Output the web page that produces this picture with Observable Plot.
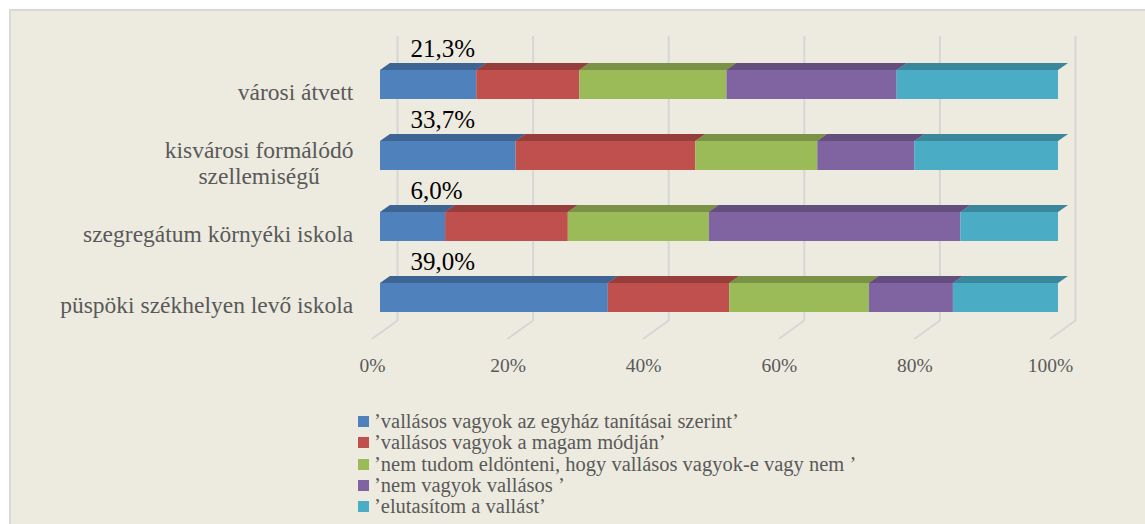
<!DOCTYPE html>
<html>
<head>
<meta charset="utf-8">
<script src="https://cdn.jsdelivr.net/npm/d3@7"></script>
<script src="https://cdn.jsdelivr.net/npm/@observablehq/plot@0.6"></script>
<style>
  html, body { margin: 0; padding: 0; background: #ffffff; }
  #frame { position: absolute; left: 9px; top: 9px; width: 1136px; height: 515px;
           background: #EDEBE0; border-top: 2px solid #D9D9D9; border-left: 2px solid #D9D9D9; box-sizing: border-box; }
  #wrap { position: relative; width: 1145px; }
  #chart svg text { font-family: "Liberation Serif", "Times New Roman", serif; }
  #legend { margin-left: 358px; margin-top: 16px; font-family: "Liberation Serif", serif;
            font-size: 20.5px; line-height: 21.3px; color: #595959; }
  #legend .item { display: flex; align-items: center; white-space: pre; height: 21.3px; }
  #legend .sw { width: 11px; height: 11px; margin-right: 5px; flex: none; }
</style>
</head>
<body>
<div id="frame"></div>
<div id="wrap"><div id="chart"></div><div id="legend"></div></div>
<script>
// ---- data ----
const categories = ["városi átvett", "kisvárosi formálódó\nszellemiségű", "szegregátum környéki iskola", "püspöki székhelyen levő iskola"];
const seriesNames = [
  "’vallásos vagyok az egyház tanításai szerint’",
  "’vallásos vagyok a magam módján’",
  "’nem tudom eldönteni, hogy vallásos vagyok-e vagy nem ’",
  "’nem vagyok vallásos ’",
  "’elutasítom a vallást’"
];
const religiousByChurch = [14.2, 20.0, 9.6, 33.6];
const religiousOwnWay   = [15.2, 26.5, 18.1, 17.9];
const undecided         = [21.7, 18.0, 20.8, 20.6];
const notReligious      = [25.1, 14.3, 37.1, 12.4];
const rejectReligion    = [23.8, 21.2, 14.4, 15.5];
const valueLabels = ["21,3%", "33,7%", "6,0%", "39,0%"];
const tickValues = [0, 20, 40, 60, 80, 100];
const colors = ["#4F81BD", "#C0504D", "#9BBB59", "#8064A2", "#4BACC6"];

// ---- derived tables ----
const seriesValues = [religiousByChurch, religiousOwnWay, undecided, notReligious, rejectReligion];
const rows = categories.flatMap((c, i) => seriesNames.map((s, j) => ({cat: c, series: s, value: seriesValues[j][i]})));
const totals = categories.map((c, i) => d3.sum(seriesValues, v => v[i]));
const labelRows = valueLabels.map((t, i) => ({cat: categories[i], t}));

const DEPTH_X = 10, DEPTH_Y = 7;
const serif = "Liberation Serif";

const chart = Plot.plot({
  width: 1145, height: 395,
  marginLeft: 380, marginRight: 87, marginTop: 28, marginBottom: 41,
  x: {domain: [0, 100], axis: null, label: null},
  y: {domain: categories, axis: null, padding: 0.5915, round: false},
  color: {domain: seriesNames, range: colors},
  style: {background: "transparent", fontSize: "19.5px", color: "#595959", overflow: "visible"},
  marks: [
    Plot.ruleX(tickValues, {x: d => d, dx: 17, insetTop: 8, insetBottom: 34, stroke: "#D6D6D6", strokeWidth: 2}),
    Plot.vector(tickValues, {x: d => d, frameAnchor: "bottom", anchor: "start", dx: 17, dy: -34,
      length: 30.8, rotate: 234.2, shape: "spike", r: 0.01, fill: "none", stroke: "#D6D6D6", strokeWidth: 2}),
    Plot.axisX({ticks: tickValues, tickFormat: d => d + "%", tickSize: 0, tickPadding: 4, dx: -8, label: null,
      fontSize: 19.5, fontFamily: serif, fill: "#595959"}),
    Plot.barX(rows, Plot.stackX({x: "value", y: "cat", fill: "series"})),
    Plot.barX(rows, Plot.stackX({x: "value", y: "cat", fill: "series", insetBottom: 22, dy: -DEPTH_Y, ariaDescription: "top-face"})),
    Plot.barX(rows, Plot.stackX({x: "value", y: "cat", fill: "black", fillOpacity: 0.22, insetBottom: 22, dy: -DEPTH_Y, ariaDescription: "top-face"})),
    Plot.ruleX(categories, {x: (c, i) => totals[i], y: d => d, stroke: "#2F7182", strokeWidth: DEPTH_X, dx: DEPTH_X / 2, ariaDescription: "side-face"}),
    Plot.text(categories, {y: d => d, frameAnchor: "left", textAnchor: "end", dx: -27, dy: 6.5,
      fontSize: 23.5, fontFamily: serif, lineHeight: 1.12, fill: "#595959", ariaDescription: "cat-labels"}),
    Plot.text(labelRows, {x: () => 0, y: "cat", text: "t", textAnchor: "start", dx: 30, dy: -36,
      fontSize: 25, fontFamily: serif, fill: "#000000"})
  ]
});
document.getElementById("chart").append(chart);

// 3D faces: skew the top faces and side faces drawn by Plot
const k = -DEPTH_X / DEPTH_Y;
chart.querySelectorAll('g[aria-description="top-face"] rect').forEach(r => {
  const yb = +r.getAttribute("y") + +r.getAttribute("height");
  const prev = r.getAttribute("transform") || "";
  r.setAttribute("transform", `${prev} matrix(1,0,${k},1,${-k * yb},0)`);
});
const m = -DEPTH_Y / DEPTH_X;
chart.querySelectorAll('g[aria-description="side-face"] line').forEach(l => {
  const xl = +l.getAttribute("x1") - DEPTH_X / 2;
  const prev = l.getAttribute("transform") || "";
  l.setAttribute("transform", `${prev} matrix(1,${m},0,1,0,${-m * xl})`);
});
// center multi-line category labels within their right-aligned block
chart.querySelectorAll('g[aria-description="cat-labels"] text').forEach(t => {
  const w = t.getBBox().width;
  t.setAttribute("text-anchor", "middle");
  const spans = t.querySelectorAll("tspan");
  if (spans.length) spans.forEach(s => s.setAttribute("x", -w / 2));
  else t.setAttribute("x", -w / 2);
});

// legend
const legend = document.getElementById("legend");
seriesNames.forEach((s, j) => {
  const item = document.createElement("div");
  item.className = "item";
  const sw = document.createElement("span");
  sw.className = "sw";
  sw.style.background = colors[j];
  const tx = document.createElement("span");
  tx.textContent = s;
  item.append(sw, tx);
  legend.append(item);
});
</script>
</body>
</html>
